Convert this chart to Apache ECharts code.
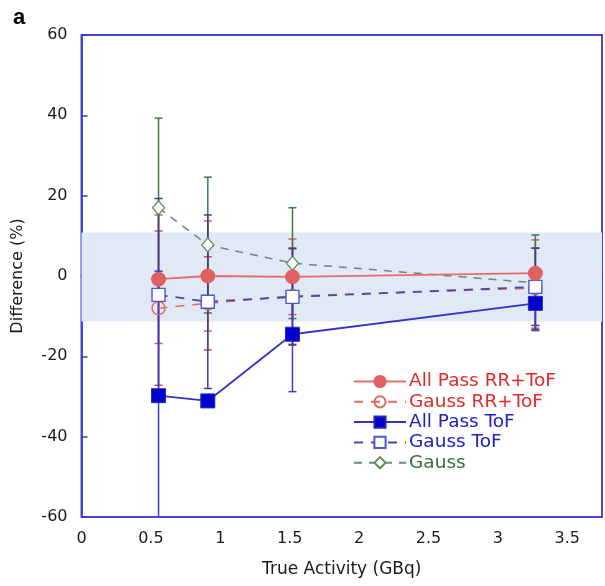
<!DOCTYPE html>
<html><head><meta charset="utf-8">
<script src="https://cdn.jsdelivr.net/npm/echarts@6/dist/echarts.min.js"></script>
<style>html,body{margin:0;padding:0;background:#fff}#c{width:605px;height:586px}</style>
</head><body><div id="c"></div>
<script>
const activity = [0.555, 0.91, 1.52, 3.27];
const allPassRR = [-0.8, 0.0, -0.2, 0.7];
const allPassRRErr = [16.0, 13.7, 9.4, 8.3];
const gaussRR = [-8.0, -6.8, -5.0, -3.0];
const gaussRRErr = [19.2, 11.6, 12.0, 10.0];
const allPassToF = [-29.8, -31.1, -14.5, -6.8];
const allPassToFErr = [31.0, 1.5, 14.3, 6.6];
const gaussToF = [-4.7, -6.4, -5.2, -2.7];
const gaussToFErr = [24.0, 21.6, 12.0, 9.6];
const gauss = [17.0, 7.7, 3.2, -1.7];
const gaussErr = [22.3, 16.9, 13.8, 11.9];
const band = [-11.3, 10.8];
const xTicks = [0, 0.5, 1, 1.5, 2, 2.5, 3, 3.5];

const pts = ys => activity.map((x, i) => [x, ys[i]]);
const errData = (ys, es) => activity.map((x, i) => [x, ys[i] - es[i], ys[i] + es[i]]);

function errSeries(name, ys, es, color, z) {
  return {
    type: 'custom', name: name + ' err', z: z, clip: true, silent: true,
    data: errData(ys, es),
    renderItem: function (params, api) {
      const lo = api.coord([api.value(0), api.value(1)]);
      const hi = api.coord([api.value(0), api.value(2)]);
      const w = 4;
      const st = { stroke: color, lineWidth: 1.5 };
      return { type: 'group', children: [
        { type: 'line', shape: { x1: lo[0], y1: lo[1], x2: hi[0], y2: hi[1] }, style: st },
        { type: 'line', shape: { x1: lo[0] - w, y1: lo[1], x2: lo[0] + w, y2: lo[1] }, style: st },
        { type: 'line', shape: { x1: hi[0] - w, y1: hi[1], x2: hi[0] + w, y2: hi[1] }, style: st }
      ]};
    }
  };
}

const FONT = 'DejaVu Sans';
const axisCol = '#4646d2';
const chart = echarts.init(document.getElementById('c'), null, { renderer: 'canvas' });
chart.setOption({
  animation: false,
  backgroundColor: '#fff',
  title: { text: 'a', left: 8, top: 2, textStyle: { fontFamily: 'Liberation Sans', fontWeight: 'bold', fontSize: 22, color: '#000' } },
  grid: { left: 81.5, right: 1.5, top: 35, bottom: 69, show: true, borderColor: axisCol, borderWidth: 2, backgroundColor: 'transparent' },
  legend: {
    orient: 'vertical', left: 348, top: 367, itemWidth: 52, itemHeight: 14, itemGap: 1.3,
    textStyle: { fontFamily: FONT, fontSize: 18.5, padding: [0, 0, 0, -2] },
    data: [
      { name: 'All Pass RR+ToF', textStyle: { color: '#e02a2a' } },
      { name: 'Gauss RR+ToF', textStyle: { color: '#e02a2a' } },
      { name: 'All Pass ToF', textStyle: { color: '#2020c8' } },
      { name: 'Gauss ToF', textStyle: { color: '#2020c8' } },
      { name: 'Gauss', textStyle: { color: '#3a6e3a' } }
    ]
  },
  xAxis: {
    type: 'value', min: 0, max: 3.75, interval: 0.5,
    name: 'True Activity (GBq)', nameLocation: 'middle', nameGap: 44,
    nameTextStyle: { fontFamily: FONT, fontSize: 17, color: '#1a1a1a' },
    axisLine: { lineStyle: { color: axisCol, width: 2 } },
    axisTick: { inside: true, length: 6, lineStyle: { color: '#3a3aa0', width: 1.5 } },
    axisLabel: { fontFamily: FONT, fontSize: 16, color: '#1a1a1a', margin: 14,
      formatter: v => (xTicks.indexOf(v) >= 0 ? String(v) : '') },
    splitLine: { show: false }
  },
  yAxis: {
    type: 'value', min: -60, max: 60, interval: 20,
    name: 'Difference (%)', nameLocation: 'middle', nameGap: 56,
    nameTextStyle: { fontFamily: FONT, fontSize: 16, color: '#1a1a1a' },
    axisLine: { show: true, lineStyle: { color: axisCol, width: 2 } },
    axisTick: { show: true, inside: true, length: 6, lineStyle: { color: '#3a3aa0', width: 1.5 } },
    axisLabel: { fontFamily: FONT, fontSize: 16, color: '#1a1a1a', margin: 14 },
    splitLine: { show: false }
  },
  series: [
    { type: 'line', name: 'band', data: [], z: 1, silent: true,
      markArea: { silent: true, itemStyle: { color: '#e0e9f5' }, data: [[{ yAxis: band[0] }, { yAxis: band[1] }]] } },
    errSeries('All Pass RR+ToF', allPassRR, allPassRRErr, '#d86060', 2),
    errSeries('Gauss RR+ToF', gaussRR, gaussRRErr, '#c85050', 2),
    errSeries('Gauss', gauss, gaussErr, '#3f7a46', 3),
    errSeries('Gauss ToF', gaussToF, gaussToFErr, '#3a4088', 3),
    errSeries('All Pass ToF', allPassToF, allPassToFErr, '#3c3ccc', 3),
    { type: 'line', name: 'Gauss', data: pts(gauss), z: 4, symbol: 'diamond', symbolSize: [12, 14],
      lineStyle: { color: '#6a8a7a', width: 1.5, type: [8, 7] },
      itemStyle: { color: '#ffffff', borderColor: '#5f8f5f', borderWidth: 1.3 } },
    { type: 'line', name: 'Gauss RR+ToF', data: pts(gaussRR), z: 4, symbol: 'circle', symbolSize: 13,
      lineStyle: { color: '#e06a6a', width: 1.5, type: [9, 8] },
      itemStyle: { color: 'transparent', borderColor: '#e06a50', borderWidth: 1.4 } },
    { type: 'line', name: 'Gauss ToF', data: pts(gaussToF), z: 5, symbol: 'rect', symbolSize: 13,
      lineStyle: { color: '#4a4aa0', width: 1.8, type: [9, 8] },
      itemStyle: { color: '#ffffff', borderColor: '#4a5ad0', borderWidth: 1.4 } },
    { type: 'line', name: 'All Pass ToF', data: pts(allPassToF), z: 5, symbol: 'rect', symbolSize: 14,
      lineStyle: { color: '#3434cc', width: 1.8 },
      itemStyle: { color: '#0000d0', borderColor: '#2a2ab0', borderWidth: 1 } },
    { type: 'line', name: 'All Pass RR+ToF', data: pts(allPassRR), z: 6, symbol: 'circle', symbolSize: 14,
      lineStyle: { color: '#e66a6a', width: 1.8 },
      itemStyle: { color: '#e06060', borderColor: '#e06060', borderWidth: 1 } }
  ]
});
</script></body></html>
